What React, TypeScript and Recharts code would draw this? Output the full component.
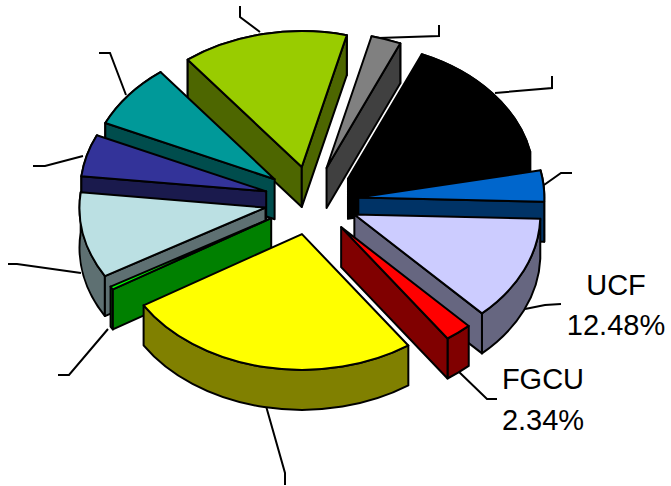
import { Pie, PieChart } from "recharts";

// clockwise from the small grey slice, the share of each slice in percent
const sliceNames = ["Slice A", "Slice B", "Slice C", "UCF", "FGCU", "Slice F", "Slice G", "Slice H", "Slice I", "Slice J", "Slice K"];
const shares = [2.6, 15.3, 3.7, 12.48, 2.34, 25.9, 0.38, 10.2, 5.0, 7.7, 14.4];
const topColors = ["#808080", "#000000", "#0066CC", "#CCCCFF", "#FF0000", "#FFFF00", "#00FF00", "#BBE0E3", "#333399", "#009999", "#99CC00"];
const sideColors = ["#404040", "#000000", "#003366", "#666680", "#800000", "#808000", "#008000", "#5E7072", "#1A1A4D", "#004D4D", "#4D6600"];

const rows = sliceNames.map((name, i) => ({
  name,
  value: shares[i],
  top: topColors[i],
  side: sideColors[i],
}));

// painted back to front: left side first, going down, then right side down to the big yellow slice
const leftRows = rows.slice(6).reverse();
const rightRows = rows.slice(0, 6);

const total = shares.reduce((a, b) => a + b, 0);
const sumOf = (list: typeof rows) => list.reduce((a, r) => a + r.value, 0);

const START = 76;
const SQUASH = 0.73;
const DEPTH = 40;
const EXPLODE = 47;
const EDGE = { stroke: "#000", strokeWidth: 2, strokeLinejoin: "round" as const };

const leaderLines = [
  "378,38 439,36 439,25",
  "495,93 552,88 552,76",
  "544,185 561,173 572,173",
  "525,309 545,305 561,304",
  "457,370 487,399 497,399",
  "266,406 285,473 285,485",
  "108,329 69,375 58,375",
  "81,273 17,264 8,264",
  "83,156 45,166 33,166",
  "126,95 110,53 99,53",
  "260,32 240,17 240,6",
];

// one slice of the tilted pie: the rim, the walls that face the viewer, then the lid
function Slice3D(props: any) {
  const { cx, cy, outerRadius: r, startAngle, endAngle, payload } = props;
  const lo = (Math.min(startAngle, endAngle) * Math.PI) / 180;
  const hi = (Math.max(startAngle, endAngle) * Math.PI) / 180;
  const mid = (lo + hi) / 2;
  const tx = cx + EXPLODE * Math.cos(mid);
  const ty = cy - SQUASH * EXPLODE * Math.sin(mid);
  const ax = tx + r * Math.cos(hi);
  const ay = ty - SQUASH * r * Math.sin(hi);
  const bx = tx + r * Math.cos(lo);
  const by = ty - SQUASH * r * Math.sin(lo);
  const large = hi - lo > Math.PI ? 1 : 0;
  const ry = r * SQUASH;
  const wall = (x: number, y: number) =>
    `M${tx},${ty} L${x},${y} L${x},${y + DEPTH} L${tx},${ty + DEPTH} Z`;
  return (
    <g>
      <path
        d={`M${ax},${ay} A${r},${ry} 0 ${large} 1 ${bx},${by} L${bx},${by + DEPTH} A${r},${ry} 0 ${large} 0 ${ax},${ay + DEPTH} Z`}
        fill={payload.side}
        {...EDGE}
      />
      {Math.cos(hi) < 0 && <path d={wall(ax, ay)} fill={payload.side} {...EDGE} />}
      {Math.cos(lo) > 0 && <path d={wall(bx, by)} fill={payload.side} {...EDGE} />}
      <path
        d={`M${tx},${ty} L${ax},${ay} A${r},${ry} 0 ${large} 1 ${bx},${by} Z`}
        fill={payload.top}
        {...EDGE}
      />
    </g>
  );
}

const labelStyle = { fontFamily: "'Liberation Sans', Arial, sans-serif", fontSize: 29, fill: "#000" };

export default function App() {
  return (
    <div style={{ position: "absolute", left: 0, top: 0, width: 671, height: 486 }}>
      <PieChart width={671} height={486} margin={{ top: 0, right: 0, bottom: 0, left: 0 }}>
        {leaderLines.map((pts) => (
          <polyline key={pts} points={pts} fill="none" stroke="#000" strokeWidth={2} />
        ))}
        <Pie
          data={leftRows}
          dataKey="value"
          nameKey="name"
          cx={311.5}
          cy={200.5}
          outerRadius={186}
          startAngle={START}
          endAngle={START + (sumOf(leftRows) / total) * 360}
          shape={Slice3D}
          isAnimationActive={false}
        />
        <Pie
          data={rightRows}
          dataKey="value"
          nameKey="name"
          cx={311.5}
          cy={200.5}
          outerRadius={186}
          startAngle={START}
          endAngle={START - (sumOf(rightRows) / total) * 360}
          shape={Slice3D}
          isAnimationActive={false}
        />
        <text x={616} y={295} textAnchor="middle" {...labelStyle}>UCF</text>
        <text x={616} y={335} textAnchor="middle" {...labelStyle}>12.48%</text>
        <text x={543} y={389} textAnchor="middle" {...labelStyle}>FGCU</text>
        <text x={543} y={430} textAnchor="middle" {...labelStyle}>2.34%</text>
      </PieChart>
    </div>
  );
}
